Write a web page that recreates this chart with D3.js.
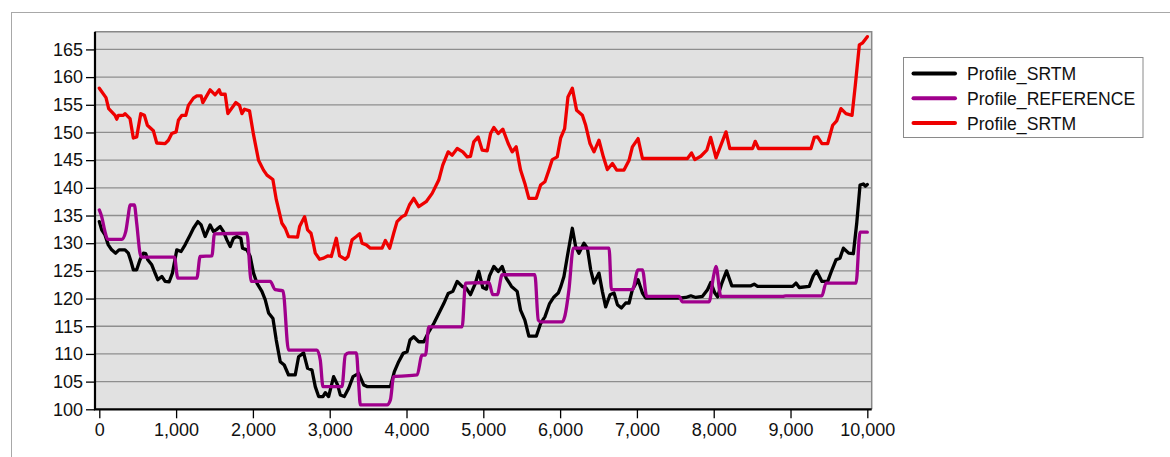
<!DOCTYPE html>
<html>
<head>
<meta charset="utf-8">
<script src="https://cdn.jsdelivr.net/npm/d3@7"></script>
<style>
  body { margin: 0; background: #fff; }
  svg { font-family: "Liberation Sans", Arial, sans-serif; }
</style>
</head>
<body>
<svg id="chart" width="1170" height="457"></svg>
<script>
// Profile_SRTM (black)
const srtmDist = [0,31,74,117,161,213,257,335,378,413,443,487,530,574,605,631,683,726,761,814,857,909,952,1009,1065,1117,1183,1226,1283,1326,1378,1443,1486,1530,1574,1617,1661,1704,1747,1791,1843,1865,1922,1965,2008,2052,2117,2160,2204,2261,2304,2356,2408,2464,2551,2595,2660,2712,2769,2812,2856,2912,2943,2986,3051,3103,3138,3190,3247,3304,3377,3442,3486,3790,3842,3898,3956,4008,4045,4094,4159,4225,4290,4355,4420,4485,4542,4603,4660,4725,4777,4833,4898,4941,4993,5041,5081,5137,5194,5246,5298,5367,5441,5485,5541,5593,5690,5746,5802,5863,5920,5976,6010,6050,6094,6159,6202,6245,6310,6355,6398,6441,6506,6550,6593,6650,6702,6746,6798,6854,6898,6941,7015,7072,7115,7571,7637,7702,7767,7854,7919,7962,8015,8050,8106,8167,8236,8484,8527,8571,9028,9071,9114,9244,9296,9340,9409,9484,9540,9592,9644,9688,9757,9818,9862,9905,9948,9974,10000];
const srtmElev = [133.9,132.4,131.5,129.7,128.8,128.2,128.8,128.8,128.2,126.7,125.2,125.2,127,128.2,128.1,127,126.1,124.6,123.4,124,123.1,123,124.6,128.8,128.5,129.7,131.5,132.7,133.9,133.3,131.2,133.3,132.1,132.5,133,132.1,130.6,129.4,130.9,131.2,130.9,129.1,128.8,127.6,124.6,122.8,121.3,119.8,117.4,116.4,112.5,108.6,108,106.2,106.2,109.5,110.2,107.4,107.1,104.1,102.3,102.3,103,102.3,105.9,104.4,102.6,102.3,103.8,105.9,106.5,104.4,104.1,104.1,106.8,108.6,110.1,110.4,112.5,113.1,112.2,112.2,114,115.5,117.3,119.1,120.9,121.3,123.1,122.2,121.9,120.7,122.8,124.9,122,121.7,124.1,125.8,124.9,125.8,123.7,122.2,121.3,117.9,116.1,113.2,113.2,115.5,116.7,119.1,120.3,121,122.2,124,127.6,132.7,129.4,128.2,130,129.1,125.2,122.8,124.6,121.3,118.5,120.7,121,118.9,118.3,119.2,119.2,121.6,123.4,121,120.1,120.1,120.2,120.5,120.2,120.4,121.6,122.9,121,120.3,122.8,125,122.3,122.3,122.6,122.2,122.2,122.8,122,122.2,124.1,125,123.1,123.1,125.2,127,127.3,129.1,128.2,128.1,133.6,140.5,140.7,140.3,140.6];

// Profile_REFERENCE (purple)
const refDist = [0,31,74,109,292,344,378,400,456,487,530,553,978,1022,1270,1313,1466,1500,1922,1978,2225,2291,2391,2464,2834,2877,2912,3160,3203,3247,3347,3377,3399,3747,3790,3833,4138,4203,4247,4290,4725,4768,5072,5124,5181,5246,5671,5716,5746,6029,6059,6115,6172,6637,6668,6941,7015,7072,7128,7549,7593,7940,7997,8030,8093,8897,8940,9409,9462,9853,9905,10000];
const refElev = [136,134.8,132.1,130.7,130.7,132.1,135.1,136.9,136.9,133.6,128.2,127.5,127.5,123.7,123.7,127.6,127.7,131.7,131.8,123.1,123.1,121.6,121.4,110.7,110.7,108.9,104.1,104.1,109.8,110.2,110.2,104.7,100.8,100.8,101.7,105.9,106.2,109.8,109.8,114.9,114.9,122.8,122.9,120.7,120.7,124.3,124.3,116.1,115.8,115.8,116.7,121.6,129.1,129.1,121.6,121.6,125.2,125.2,120.4,120.4,119.4,119.4,124,125.8,120.4,120.4,120.5,120.5,122.8,122.8,132,132];

// Profile_SRTM (red)
const srtm2Dist = [0,87,122,205,227,248,313,335,400,443,487,540,587,626,704,748,857,900,944,1000,1030,1074,1126,1160,1226,1270,1326,1348,1443,1508,1561,1583,1639,1674,1778,1825,1857,1891,1956,2008,2073,2138,2183,2260,2304,2378,2421,2464,2581,2608,2673,2712,2756,2782,2812,2868,2920,2973,3021,3086,3129,3203,3239,3291,3347,3390,3421,3477,3529,3682,3725,3781,3833,3877,3942,3986,4038,4094,4159,4256,4334,4420,4472,4542,4594,4660,4733,4790,4833,4876,4933,4986,5051,5094,5137,5194,5254,5324,5376,5428,5485,5541,5593,5690,5746,5802,5854,5898,5963,6007,6059,6102,6159,6215,6290,6333,6389,6441,6506,6563,6615,6681,6737,6832,6898,6941,7015,7072,7658,7711,7754,7832,7910,7960,8030,8160,8210,8506,8540,8584,9266,9309,9353,9409,9484,9549,9601,9657,9722,9801,9844,9896,9940,10000];
const srtm2Elev = [158,156.3,154.3,153.1,152.4,153.1,153.1,153.4,152.5,149,149.2,153.4,153.1,151.3,150.3,148.1,148,148.6,149.8,150.1,152.2,153.1,153.1,154.9,156.2,156.6,156.6,155.4,157.7,156.8,157.7,156.9,156.9,153.4,155.4,154.9,153.4,154.2,153.9,149.6,145,143.2,142.3,141.5,137.9,133.6,132.7,131.2,131.1,133,134.8,132.4,131.8,130.3,128.2,127.1,127.3,127.7,127.6,130.9,127.7,127.1,127.6,130.6,131.2,131.7,130,129.7,129.1,129.1,130.5,129.1,131.8,133.9,134.8,135.1,136.9,138.1,136.6,137.5,139,141.4,144.1,146.5,145.9,147.1,146.5,145.6,145.7,148.3,149.2,146.8,146.7,149.8,150.9,149.8,150.6,148,146.5,147.4,143.2,140.8,138.1,138.1,140.5,141.1,143.2,145.1,145.6,149,150.7,156.4,158,154,153.1,151.3,148,146.5,148.6,145.6,143.3,144.4,143.2,143.2,145,147.4,148.9,145.3,145.3,146.3,145.1,145.7,146.8,149.1,145.4,150.1,147.1,147.1,148.4,147.1,147.1,149.1,149.2,148,148,151.3,152.1,154.3,153.4,153.1,158.6,165.8,166.2,167.3];

const yTicks = [100,105,110,115,120,125,130,135,140,145,150,155,160,165];
const xTicks = [0,1000,2000,3000,4000,5000,6000,7000,8000,9000,10000];
const seriesNames = ["Profile_SRTM", "Profile_REFERENCE", "Profile_SRTM"];
const seriesColors = ["#000000", "#a0008c", "#ee0000"];

const svg = d3.select("#chart");

// outer frame (runs off the page right and bottom)
svg.append("rect")
    .attr("x", 11.5).attr("y", 12.5)
    .attr("width", 1200).attr("height", 500)
    .attr("fill", "#fff")
    .attr("stroke", "#a8a8a8");

const plot = {left: 95, right: 871.7, top: 31.7, bottom: 409.3};

const x = d3.scaleLinear().domain([-56, 10057]).range([plot.left, plot.right]);
const y = d3.scaleLinear().domain([100, 168.2]).range([plot.bottom, plot.top]);

svg.append("rect")
    .attr("x", plot.left).attr("y", plot.top)
    .attr("width", plot.right - plot.left).attr("height", plot.bottom - plot.top)
    .attr("fill", "#e1e1e1");

// grid
svg.append("g").selectAll("line")
    .data(yTicks.filter(d => d > 100))
    .join("line")
    .attr("x1", plot.left).attr("x2", plot.right)
    .attr("y1", d => y(d)).attr("y2", d => y(d))
    .attr("stroke", "#8e8e8e")
    .attr("stroke-width", 1.3);

// top + right border
svg.append("path")
    .attr("d", `M${plot.left},${plot.top}H${plot.right}V${plot.bottom}`)
    .attr("fill", "none").attr("stroke", "#888").attr("stroke-width", 1.5);

// series
const series = [
    {dist: srtmDist, elev: srtmElev, curve: d3.curveLinear},
    {dist: refDist, elev: refElev, curve: d3.curveMonotoneX},
    {dist: srtm2Dist, elev: srtm2Elev, curve: d3.curveLinear}
];

series.forEach((s, i) => {
    const pts = s.dist.map((d, j) => [d, s.elev[j]]);
    const line = d3.line()
        .x(d => x(d[0]))
        .y(d => y(d[1]))
        .curve(s.curve);
    svg.append("path")
        .datum(pts)
        .attr("d", line)
        .attr("fill", "none")
        .attr("stroke", seriesColors[i])
        .attr("stroke-width", 3.3)
        .attr("stroke-linejoin", "round")
        .attr("stroke-linecap", "round");
});

// axes
const yAxis = d3.axisLeft(y).tickValues(yTicks).tickSize(9).tickPadding(3).tickSizeOuter(0);
const xAxis = d3.axisBottom(x).tickValues(xTicks).tickSize(9).tickPadding(5)
    .tickFormat(d3.format(",")).tickSizeOuter(0);

const yG = svg.append("g").attr("transform", `translate(${plot.left},0)`).call(yAxis);
const xG = svg.append("g").attr("transform", `translate(0,${plot.bottom})`).call(xAxis);

[yG, xG].forEach(g => {
    g.select(".domain").remove();
    g.selectAll(".tick line").attr("stroke", "#000").attr("stroke-width", 1.3);
    g.selectAll(".tick text").attr("fill", "#111").style("font-size", "18px")
        .style("font-family", "'Liberation Sans', Arial, sans-serif");
});

// left + bottom axis lines
svg.append("path")
    .attr("d", `M${plot.left},${plot.top}V${plot.bottom}H${plot.right}`)
    .attr("fill", "none").attr("stroke", "#000").attr("stroke-width", 2.2);

// legend
const legend = svg.append("g");
legend.append("rect")
    .attr("x", 903.5).attr("y", 57.5)
    .attr("width", 239.5).attr("height", 80)
    .attr("fill", "#fff").attr("stroke", "#8a8a8a");

seriesNames.forEach((name, i) => {
    const cy = 73.5 + i * 24.8;
    legend.append("line")
        .attr("x1", 913.5).attr("x2", 955)
        .attr("y1", cy).attr("y2", cy)
        .attr("stroke", seriesColors[i]).attr("stroke-width", 4)
        .attr("stroke-linecap", "round");
    legend.append("text")
        .attr("x", 967).attr("y", cy + 6.5)
        .style("font-size", "17.6px")
        .attr("fill", "#111")
        .text(name);
});
</script>
</body>
</html>
